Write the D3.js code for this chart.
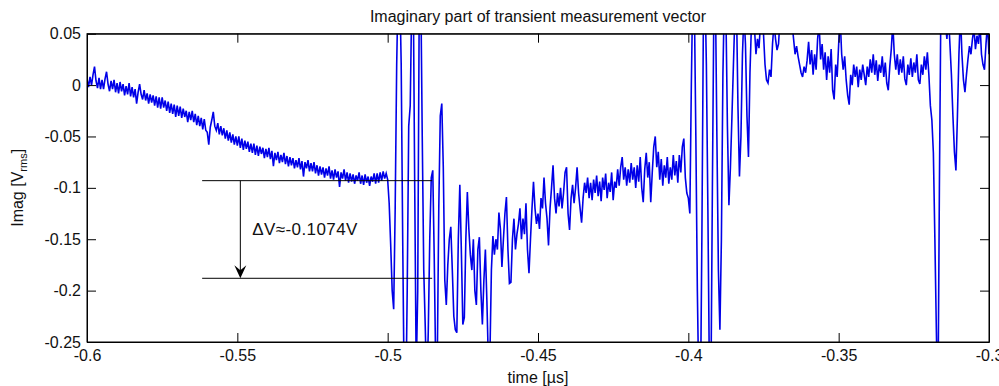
<!DOCTYPE html>
<html>
<head>
<meta charset="utf-8">
<script src="https://cdn.jsdelivr.net/npm/d3@7"></script>
<style>
  html, body { margin: 0; padding: 0; background: #fff; }
  svg { display: block; font-family: "Liberation Sans", Arial, sans-serif; }
</style>
</head>
<body>
<div id="chart"></div>
<script>
// sampling of the measurement (µs)
const tStart = -0.6
const dt = 0.0005

// Imag part [V], one array per 0.05 µs window
const imagA = [ // -0.600 .. -0.5505
  0.006, -0.002, 0.008, 0.000, 0.010, 0.018, 0.004, -0.003, 0.007, -0.004,
  0.005, -0.004, 0.006, 0.013, 0.001, -0.006, 0.004, -0.004, 0.005, -0.007,
  0.002, -0.008, 0.003, -0.006, 0.001, -0.010, -0.001, -0.009, 0.002, -0.011,
  -0.002, -0.012, -0.004, -0.018, -0.007, 0.001, -0.009, -0.014, -0.005, -0.015,
  -0.008, -0.018, -0.009, -0.017, -0.010, -0.020, -0.011, -0.022, -0.012, -0.023,
  -0.012, -0.022, -0.015, -0.025, -0.016, -0.027, -0.018, -0.028, -0.019, -0.031,
  -0.020, -0.030, -0.021, -0.032, -0.023, -0.031, -0.025, -0.036, -0.026, -0.034,
  -0.025, -0.036, -0.028, -0.039, -0.030, -0.040, -0.032, -0.043, -0.033, -0.044,
  -0.046, -0.058, -0.041, -0.034, -0.026, -0.040, -0.044, -0.037, -0.048, -0.040,
  -0.049, -0.042, -0.052, -0.044, -0.054, -0.046, -0.056, -0.048, -0.058, -0.050
]
const imagB = [ // -0.550 .. -0.5005
  -0.059, -0.050, -0.061, -0.052, -0.063, -0.054, -0.062, -0.055, -0.065, -0.057,
  -0.066, -0.057, -0.068, -0.059, -0.069, -0.060, -0.067, -0.061, -0.071, -0.062,
  -0.070, -0.061, -0.072, -0.064, -0.079, -0.066, -0.073, -0.065, -0.076, -0.068,
  -0.075, -0.066, -0.077, -0.069, -0.079, -0.070, -0.078, -0.071, -0.081, -0.073,
  -0.080, -0.071, -0.082, -0.074, -0.089, -0.075, -0.081, -0.073, -0.084, -0.076,
  -0.084, -0.075, -0.086, -0.078, -0.088, -0.079, -0.087, -0.080, -0.090, -0.081,
  -0.088, -0.079, -0.091, -0.083, -0.092, -0.082, -0.090, -0.084, -0.099, -0.085,
  -0.091, -0.082, -0.093, -0.085, -0.095, -0.086, -0.094, -0.087, -0.096, -0.088,
  -0.093, -0.085, -0.096, -0.088, -0.097, -0.087, -0.095, -0.089, -0.098, -0.089,
  -0.094, -0.086, -0.096, -0.086, -0.095, -0.085, -0.093, -0.084, -0.091, -0.086
]
const imagC = [ // -0.500 .. -0.4505
  -0.092, -0.115, -0.155, -0.200, -0.218, -0.120, 0.020, 0.100, 0.100, 0.020,
  -0.150, -0.300, -0.320, -0.200, -0.040, -0.020, 0.080, 0.100, -0.100, -0.280,
  -0.200, 0.080, 0.100, -0.050, -0.180, -0.235, -0.300, -0.240, -0.150, -0.090,
  -0.083, -0.170, -0.280, -0.270, -0.120, -0.030, -0.018, -0.080, -0.190, -0.214,
  -0.175, -0.150, -0.138, -0.180, -0.225, -0.238, -0.241, -0.150, -0.097, -0.160,
  -0.233, -0.226, -0.150, -0.104, -0.140, -0.165, -0.180, -0.150, -0.200, -0.214,
  -0.160, -0.148, -0.200, -0.233, -0.190, -0.160, -0.210, -0.270, -0.265, -0.180,
  -0.147, -0.165, -0.150, -0.160, -0.124, -0.140, -0.177, -0.150, -0.125, -0.109,
  -0.160, -0.193, -0.192, -0.150, -0.130, -0.160, -0.145, -0.135, -0.120, -0.150,
  -0.130, -0.145, -0.115, -0.160, -0.183, -0.150, -0.120, -0.094, -0.120, -0.135
]
const imagD = [ // -0.450 .. -0.4005
  -0.125, -0.140, -0.110, -0.120, -0.090, -0.115, -0.130, -0.156, -0.120, -0.100,
  -0.078, -0.110, -0.125, -0.105, -0.118, -0.100, -0.120, -0.105, -0.085, -0.080,
  -0.125, -0.141, -0.110, -0.097, -0.115, -0.100, -0.080, -0.105, -0.120, -0.134,
  -0.110, -0.095, -0.105, -0.090, -0.110, -0.095, -0.112, -0.092, -0.105, -0.088,
  -0.108, -0.094, -0.113, -0.090, -0.102, -0.086, -0.110, -0.095, -0.104, -0.085,
  -0.112, -0.094, -0.100, -0.082, -0.098, -0.080, -0.070, -0.092, -0.080, -0.098,
  -0.082, -0.095, -0.076, -0.092, -0.080, -0.100, -0.078, -0.094, -0.070, -0.100,
  -0.114, -0.082, -0.066, -0.090, -0.075, -0.114, -0.085, -0.060, -0.050, -0.080,
  -0.065, -0.092, -0.072, -0.098, -0.078, -0.090, -0.070, -0.096, -0.080, -0.092,
  -0.068, -0.088, -0.074, -0.095, -0.068, -0.085, -0.060, -0.052, -0.090, -0.105
]
const imagE = [ // -0.400 .. -0.3505
  -0.110, -0.125, 0.000, 0.100, 0.080, -0.050, -0.200, -0.300, -0.320, -0.150,
  0.060, 0.100, 0.020, -0.120, -0.280, -0.300, -0.100, 0.080, 0.090, -0.050,
  -0.180, -0.238, -0.150, 0.010, 0.090, 0.070, -0.040, -0.117, -0.080, -0.031,
  0.020, 0.070, 0.080, -0.020, -0.089, -0.050, 0.030, 0.070, 0.040, -0.030,
  -0.070, 0.012, 0.060, 0.070, 0.055, 0.030, 0.045, 0.036, 0.060, 0.070,
  0.050, 0.020, 0.005, 0.002, 0.015, 0.008, 0.040, 0.060, 0.045, 0.034,
  0.040, 0.065, 0.070, 0.060, 0.065, 0.075, 0.058, 0.070, 0.080, 0.060,
  0.045, 0.030, 0.038, 0.028, 0.020, 0.012, 0.008, 0.018, 0.012, 0.024,
  0.042, 0.020, 0.034, 0.010, 0.030, 0.015, 0.045, 0.060, 0.025, 0.040,
  0.015, 0.032, 0.005, 0.028, 0.012, 0.035, -0.005, -0.014, 0.020, 0.008
]
const imagF = [ // -0.350 .. -0.300
  0.040, 0.065, 0.030, 0.015, 0.028, 0.005, -0.010, -0.019, 0.010, 0.000,
  0.020, 0.008, 0.018, -0.002, 0.015, 0.005, 0.020, 0.010, 0.000, 0.018,
  0.008, 0.025, 0.012, 0.030, 0.010, 0.024, 0.004, 0.020, 0.012, 0.028,
  0.008, 0.022, 0.002, -0.005, 0.018, 0.035, 0.060, 0.030, 0.015, 0.030,
  0.010, 0.025, 0.012, 0.028, 0.006, 0.000, 0.020, 0.010, 0.026, 0.008,
  0.022, 0.012, 0.030, 0.005, 0.001, 0.020, 0.010, 0.028, 0.015, 0.032,
  0.010, -0.020, -0.034, -0.066, -0.150, -0.240, -0.320, -0.100, 0.080, 0.100,
  0.080, 0.060, 0.045, 0.070, 0.040, 0.010, -0.030, -0.065, -0.083, -0.030,
  0.030, 0.070, 0.030, 0.005, -0.007, 0.010, 0.025, 0.038, 0.030, 0.045,
  0.055, 0.035, 0.048, 0.040, 0.060, 0.030, 0.020, 0.015, 0.040, 0.060,
  0.030
]

const xTicks = [-0.6, -0.55, -0.5, -0.45, -0.4, -0.35, -0.3]
const yTicks = [0.05, 0, -0.05, -0.1, -0.15, -0.2, -0.25]

// annotation (data coords)
const markTop = -0.093
const markBottom = -0.188
const markFrom = -0.5617
const markTo = -0.4852
const arrowAt = -0.549
const arrowLabel = 'ΔV≈-0.1074V'

const width = 999
const height = 386
const plot = { left: 87, top: 33.7, right: 989, bottom: 342 }

const svg = d3.select('#chart')
  .append('svg')
  .attr('width', width)
  .attr('height', height)

const xScale = d3.scaleLinear()
  .domain([-0.6, -0.3])
  .range([plot.left, plot.right])
const yScale = d3.scaleLinear()
  .domain([-0.25, 0.05])
  .range([plot.bottom, plot.top])

const values = [].concat(imagA, imagB, imagC, imagD, imagE, imagF)
const data = values.map((v, i) => [tStart + i * dt, v])

// clip to the axes box
svg.append('clipPath')
  .attr('id', 'clip')
  .append('rect')
  .attr('x', plot.left)
  .attr('y', plot.top)
  .attr('width', plot.right - plot.left)
  .attr('height', plot.bottom - plot.top)

const line = d3.line()
  .x(d => xScale(d[0]))
  .y(d => yScale(d[1]))

svg.append('path')
  .attr('clip-path', 'url(#clip)')
  .attr('d', line(data))
  .attr('fill', 'none')
  .attr('stroke', '#0000e8')
  .attr('stroke-width', 1.6)
  .attr('stroke-linejoin', 'miter')

// axes, ticks inside like matlab
const tickLen = 9
const fmt = d => (d === 0 ? '0' : String(d))

const xAxisB = d3.axisBottom(xScale).tickValues(xTicks).tickSizeInner(-tickLen).tickSizeOuter(0).tickPadding(8).tickFormat(fmt)
const xAxisT = d3.axisTop(xScale).tickValues(xTicks).tickSizeInner(-tickLen).tickSizeOuter(0).tickFormat('')
const yAxisL = d3.axisLeft(yScale).tickValues(yTicks).tickSizeInner(-tickLen).tickSizeOuter(0).tickPadding(6).tickFormat(fmt)
const yAxisR = d3.axisRight(yScale).tickValues(yTicks).tickSizeInner(-tickLen).tickSizeOuter(0).tickFormat('')

const axes = [
  [xAxisB, 'translate(0,' + plot.bottom + ')'],
  [xAxisT, 'translate(0,' + plot.top + ')'],
  [yAxisL, 'translate(' + plot.left + ',0)'],
  [yAxisR, 'translate(' + plot.right + ',0)']
]
axes.forEach(([ax, tr]) => {
  const g = svg.append('g')
    .attr('transform', tr)
    .call(ax)
  g.select('.domain').attr('stroke', '#000')
  g.selectAll('.tick line').attr('stroke', '#000')
  g.selectAll('.tick text')
    .attr('fill', '#111')
    .style('font-size', '16px')
    .style('font-family', '"Liberation Sans", Arial, sans-serif')
})

// box
svg.append('rect')
  .attr('x', plot.left)
  .attr('y', plot.top)
  .attr('width', plot.right - plot.left)
  .attr('height', plot.bottom - plot.top)
  .attr('fill', 'none')
  .attr('stroke', '#000')
  .attr('stroke-width', 1)

// title + labels
svg.append('text')
  .attr('x', (plot.left + plot.right) / 2)
  .attr('y', 22)
  .attr('text-anchor', 'middle')
  .style('font-size', '16px')
  .attr('fill', '#111')
  .text('Imaginary part of transient measurement vector')

svg.append('text')
  .attr('x', (plot.left + plot.right) / 2)
  .attr('y', 383)
  .attr('text-anchor', 'middle')
  .style('font-size', '16px')
  .attr('fill', '#111')
  .text('time [µs]')

const yLabel = svg.append('text')
  .attr('transform', 'translate(23,' + ((plot.top + plot.bottom) / 2) + ') rotate(-90)')
  .attr('text-anchor', 'middle')
  .style('font-size', '16px')
  .attr('fill', '#111')
yLabel.append('tspan').text('Imag [V')
yLabel.append('tspan').attr('dy', 4).style('font-size', '11px').text('rms')
yLabel.append('tspan').attr('dy', -4).text(']')

// delta V marker
const ann = svg.append('g').attr('stroke', '#000').attr('stroke-width', 1)
;[markTop, markBottom].forEach(v => {
  ann.append('line')
    .attr('x1', xScale(markFrom))
    .attr('x2', xScale(markTo))
    .attr('y1', yScale(v))
    .attr('y2', yScale(v))
})
const ax = xScale(arrowAt)
const ay0 = yScale(markTop)
const ay1 = yScale(markBottom)
ann.append('line')
  .attr('x1', ax).attr('x2', ax)
  .attr('y1', ay0).attr('y2', ay1 - 6)
ann.append('path')
  .attr('d', 'M' + ax + ',' + ay1 + ' L' + (ax - 6) + ',' + (ay1 - 13) + ' L' + ax + ',' + (ay1 - 8) + ' L' + (ax + 6) + ',' + (ay1 - 13) + ' Z')
  .attr('fill', '#000')
  .attr('stroke', 'none')

svg.append('text')
  .attr('x', ax + 12)
  .attr('y', (ay0 + ay1) / 2 + 6)
  .style('font-size', '17px')
  .style('letter-spacing', '0.4px')
  .attr('fill', '#111')
  .text(arrowLabel)
</script>
</body>
</html>
